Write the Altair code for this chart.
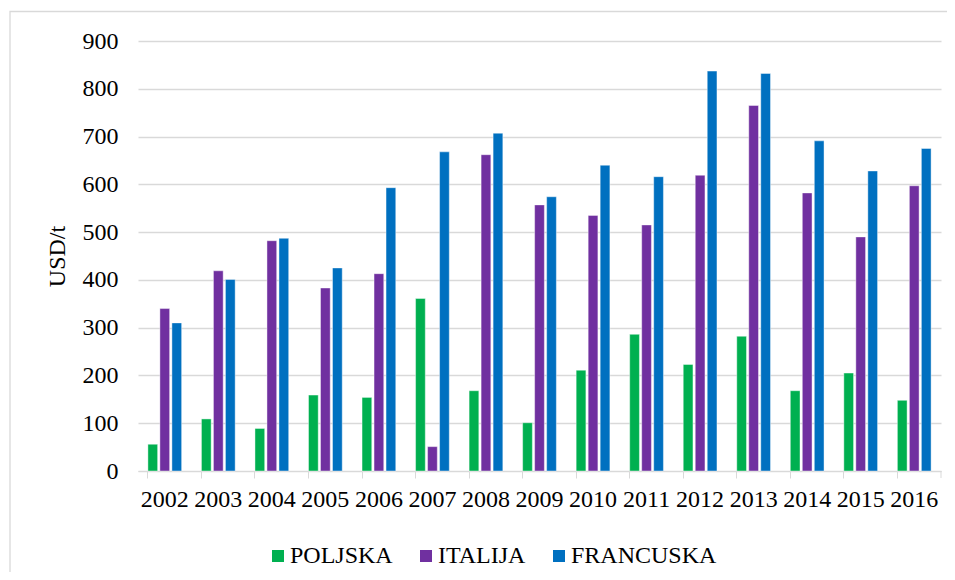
import altair as alt
import pandas as pd

years = [str(y) for y in range(2002, 2017)]
countries = ["POLJSKA", "ITALIJA", "FRANCUSKA"]
colors = ["#00B050", "#7030A0", "#0070C0"]

poljska = [56, 109, 89, 159, 154, 361, 168, 101, 211, 286, 223, 282, 168, 205, 148]
italija = [340, 419, 482, 383, 413, 51, 662, 557, 535, 515, 619, 765, 582, 490, 597]
francuska = [310, 401, 487, 425, 593, 668, 707, 574, 640, 616, 837, 832, 691, 628, 675]

y_ticks = list(range(0, 1000, 100))

rows = []
for series_name, vals in zip(countries, [poljska, italija, francuska]):
    for yr, v in zip(years, vals):
        rows.append({"Godina": yr, "Zemlja": series_name, "Vrijednost": v})
df = pd.DataFrame(rows)

FONT = "Liberation Serif"
W, H = 803, 430

bars = alt.Chart(df).mark_bar(stroke="white", strokeWidth=0.6, strokeOpacity=0.7).encode(
    x=alt.X("Godina:N", sort=years, title=None,
            scale=alt.Scale(paddingInner=0.37, paddingOuter=0.185),
            axis=alt.Axis(labelAngle=0, bandPosition=0, tickSize=7, labelPadding=9,
                          domainColor="#d9d9d9", tickColor="#d9d9d9", grid=False,
                          labelFont=FONT, labelFontSize=24, labelColor="#000")),
    xOffset=alt.XOffset("Zemlja:N", sort=countries,
                        scale=alt.Scale(paddingInner=0.19, paddingOuter=0)),
    y=alt.Y("Vrijednost:Q", title="USD/t",
            scale=alt.Scale(domain=[0, 900], nice=False),
            axis=alt.Axis(values=y_ticks, ticks=False, domain=False, labelPadding=20,
                          grid=True, gridColor="#d9d9d9", gridWidth=1.3,
                          labelFont=FONT, labelFontSize=24, labelColor="#000",
                          titleFont=FONT, titleFontSize=24, titleFontWeight="normal",
                          titleColor="#000", titlePadding=13)),
    color=alt.Color("Zemlja:N", sort=countries,
                    scale=alt.Scale(domain=countries, range=colors),
                    legend=alt.Legend(title=None, orient="none", direction="horizontal",
                                      legendX=128, legendY=503, padding=0,
                                      symbolType="square", symbolSize=144,
                                      symbolStrokeWidth=0, labelOffset=0,
                                      columnPadding=21,
                                      labelFont=FONT, labelFontSize=24,
                                      labelColor="#000")),
)

dummy = pd.DataFrame({"k": [0]})
frame = alt.Chart(dummy).mark_rect(fill=None, stroke="#d9d9d9", strokeWidth=1.3).encode(
    x=alt.value(-128), x2=alt.value(W + 200),
    y=alt.value(-29.5), y2=alt.value(H + 200),
)
end_tick = alt.Chart(dummy).mark_rule(color="#d9d9d9").encode(
    x=alt.value(W), y=alt.value(H), y2=alt.value(H + 7),
)

chart = alt.layer(frame, bars, end_tick).properties(
    width=W, height=H,
    autosize=alt.AutoSizeParams(type="none"),
    padding={"left": 130, "top": 33, "right": 6, "bottom": 101},
    background="white",
).configure_view(stroke=None)

chart.save("out.html", embed_options={"renderer": "svg", "actions": False})
